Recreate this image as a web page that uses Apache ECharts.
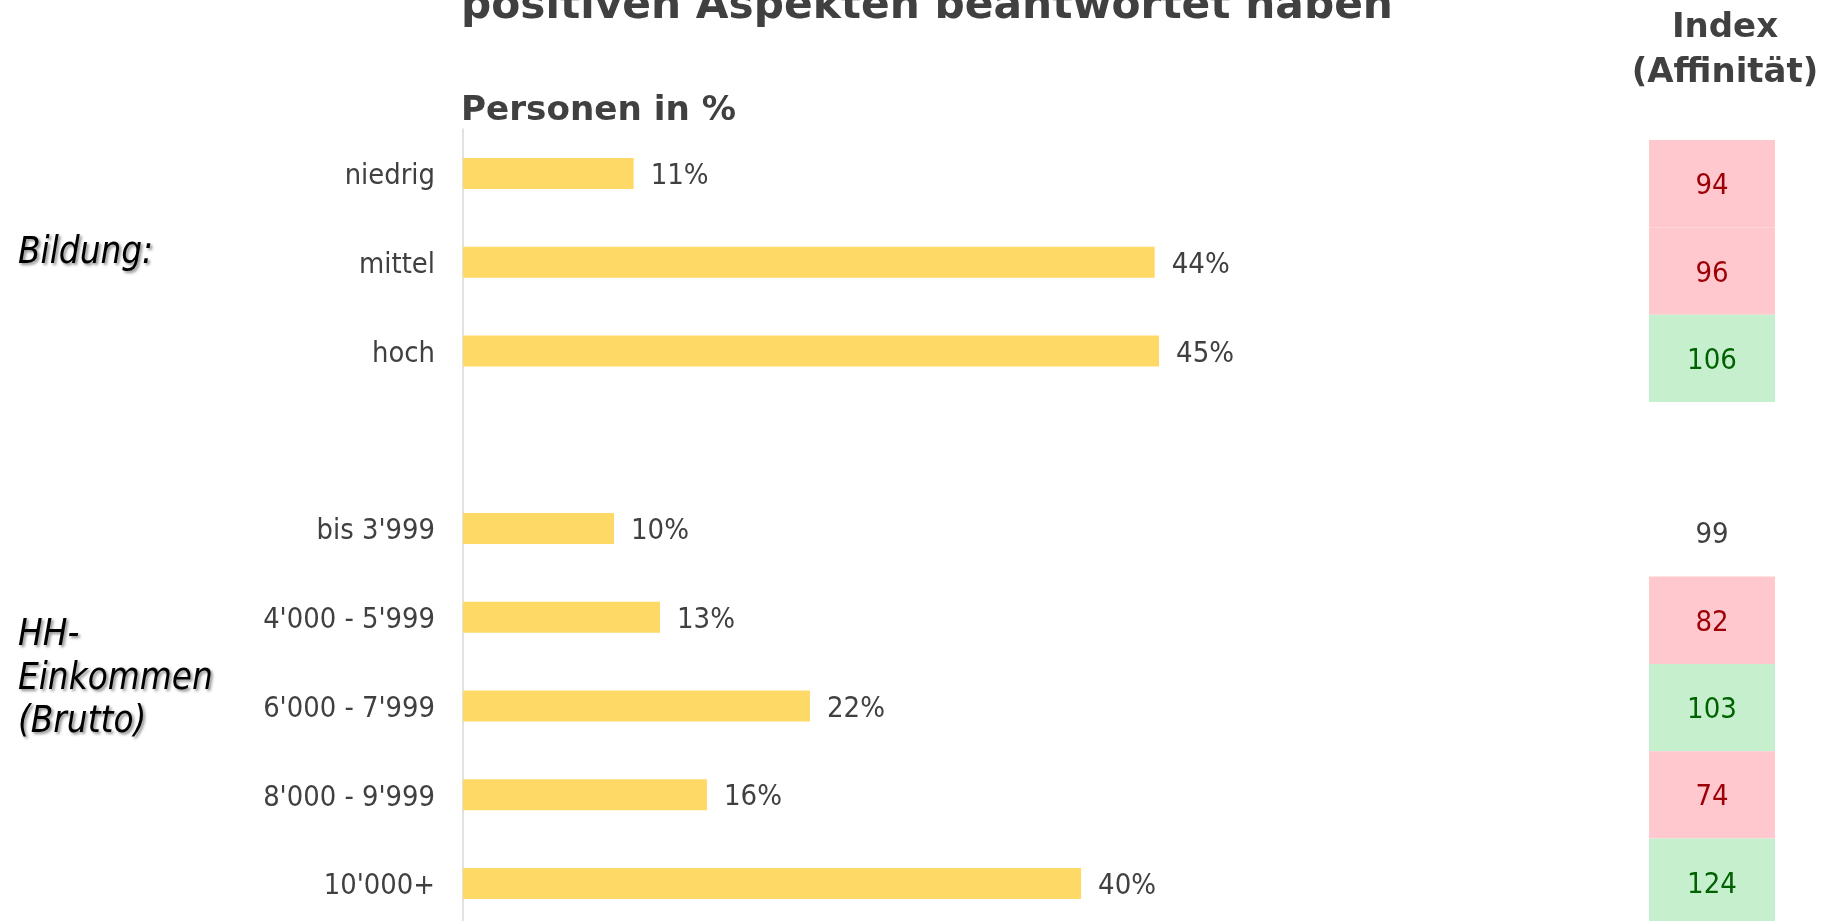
<!DOCTYPE html>
<html>
<head>
<meta charset="utf-8">
<script src="https://cdn.jsdelivr.net/npm/echarts@6/dist/echarts.min.js"></script>
<style>
  html, body { margin: 0; padding: 0; background: #fff; }
  #chart { width: 1824px; height: 921px; }
</style>
</head>
<body>
<div id="chart"></div>
<script>
// rows top to bottom, empty string = spacer row between the two groups
const categories = ['niedrig', 'mittel', 'hoch', '', "bis 3'999", "4'000 - 5'999", "6'000 - 7'999", "8'000 - 9'999", "10'000+"]
// Personen in % (bar lengths, labels are rounded)
const shares = [10.94, 44.34, 44.62, null, 9.68, 12.63, 22.24, 15.64, 39.62]
// Index (Affinität) and its highlight: neg = red cell, pos = green cell, none = plain
const indexValues = [94, 96, 106, null, 99, 82, 103, 74, 124]
const indexTrend = ['neg', 'neg', 'pos', null, 'none', 'neg', 'pos', 'neg', 'pos']
const groupLabels = ['Bildung:', 'HH-\nEinkommen\n(Brutto)']
const titleLine = 'positiven Aspekten beantwortet haben'
const subTitle = 'Personen in %'
const indexTitle = 'Index\n(Affinität)'

const textColor = '#404040'
const labelFont = '"DejaVu Sans Condensed", "DejaVu Sans", sans-serif'
const headFont = '"DejaVu Sans", sans-serif'
const cellStyles = {
  neg: { bg: '#FFC7CE', fg: '#9C0006' },
  pos: { bg: '#C6EFCE', fg: '#006100' },
  none: { bg: 'rgba(0,0,0,0)', fg: textColor }
}

const chart = echarts.init(document.getElementById('chart'))

const italicLabel = (text, top) => ({
  type: 'text',
  x: 18,
  y: top,
  style: {
    text: text,
    fill: '#000',
    fontFamily: labelFont,
    fontStyle: 'italic',
    fontSize: 36.5,
    lineHeight: 43.6,
    verticalAlign: 'top',
    textShadowColor: 'rgba(0,0,0,0.45)',
    textShadowBlur: 3,
    textShadowOffsetX: 2,
    textShadowOffsetY: 2
  }
})

chart.setOption({
  animation: false,
  backgroundColor: '#fff',
  graphic: [
    {
      type: 'text',
      x: 461,
      y: 7,
      style: { text: titleLine, fill: textColor, fontFamily: headFont, fontWeight: 'bold', fontSize: 42.3, verticalAlign: 'middle' }
    },
    {
      type: 'text',
      x: 461,
      y: 111,
      style: { text: subTitle, fill: textColor, fontFamily: headFont, fontWeight: 'bold', fontSize: 34.2, verticalAlign: 'middle' }
    },
    {
      type: 'text',
      x: 1725,
      y: 6,
      style: { text: indexTitle, fill: textColor, fontFamily: headFont, fontWeight: 'bold', fontSize: 34, lineHeight: 45, align: 'center', verticalAlign: 'top' }
    },
    italicLabel(groupLabels[0], 232),
    italicLabel(groupLabels[1], 614)
  ],
  grid: [
    { left: 463, top: 129.1, width: 1248, height: 798.75, outerBoundsMode: 'none' },
    { left: 1649, top: 140.1, width: 126, height: 785.7, outerBoundsMode: 'none' }
  ],
  xAxis: [
    { gridIndex: 0, type: 'value', min: 0, max: 80, show: false, splitLine: { show: false } },
    { gridIndex: 1, type: 'value', min: 0, max: 1, show: false, splitLine: { show: false } }
  ],
  yAxis: [
    {
      gridIndex: 0,
      type: 'category',
      data: categories,
      inverse: true,
      axisLine: { show: true, lineStyle: { color: '#D9D9D9', width: 1.5 } },
      axisTick: { show: false },
      splitLine: { show: false },
      axisLabel: {
        margin: 28,
        formatter: v => v ? '{a|' + v + '}' : '',
        rich: {
          a: { color: textColor, fontFamily: labelFont, fontSize: 28.8, padding: [7, 0, 0, 0] }
        }
      }
    },
    {
      gridIndex: 1,
      type: 'category',
      data: categories,
      inverse: true,
      show: false
    }
  ],
  series: [
    {
      type: 'bar',
      xAxisIndex: 0,
      yAxisIndex: 0,
      barWidth: 31,
      data: shares.map(v => v === null ? '-' : v),
      itemStyle: { color: '#FFD966' },
      label: {
        show: true,
        position: 'right',
        distance: 17,
        offset: [0, 3],
        color: textColor,
        fontFamily: labelFont,
        fontSize: 29,
        formatter: p => Math.round(p.value) + '%'
      }
    },
    {
      type: 'bar',
      xAxisIndex: 1,
      yAxisIndex: 1,
      barWidth: '100%',
      data: indexValues.map((v, i) => {
        if (v === null) return '-'
        const s = cellStyles[indexTrend[i]]
        return {
          value: 1,
          itemStyle: { color: s.bg },
          label: { color: s.fg, formatter: String(v) }
        }
      }),
      label: {
        show: true,
        position: 'inside',
        offset: [0, 3],
        fontFamily: labelFont,
        fontSize: 29
      }
    }
  ]
})
</script>
</body>
</html>
